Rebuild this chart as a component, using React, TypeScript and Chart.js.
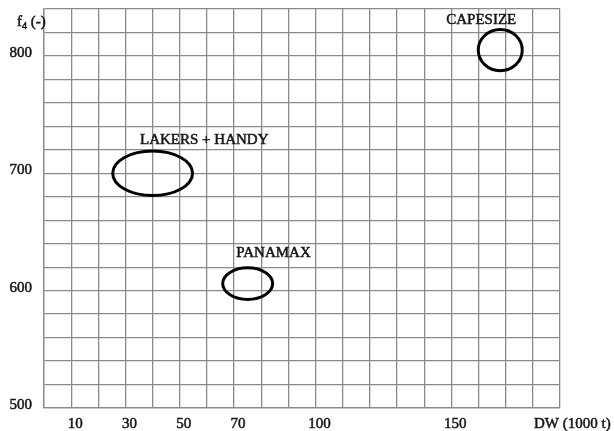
import React, { useEffect, useRef } from "react";
import { Chart, registerables } from "chart.js";

Chart.register(...registerables);

// ---- data ----
const classNames = ["LAKERS + HANDY", "PANAMAX", "CAPESIZE"];
const centerDW = [40, 75, 168];
const centerF4 = [700, 606, 805];
const spreadDW = [14.7, 9.2, 8.1];
const spreadF4 = [19, 13.5, 17.6];
const labelDW = [59, 84.5, 161];
const labelF4 = [728, 632, 830.6];
const xTickLabels = [10, 30, 50, 70, 100, 150];
const yTickLabels = [500, 600, 700, 800];
const xTitle = "DW (1000 t)";
const yTitleMain = "f";
const yTitleSub = "4";
const yTitleRest = " (-)";

const FONT = "'Liberation Serif', 'Times New Roman', serif";
const GRID = "#8a8a8a";
const INK = "#151515";

const ellipsePlugin = {
  id: "ellipses",
  afterDatasetsDraw(chart: any) {
    const { ctx, scales } = chart;
    const xs = scales.x;
    const ys = scales.y;
    ctx.save();
    ctx.strokeStyle = "#000";
    ctx.lineWidth = 3;
    for (let i = 0; i < centerDW.length; i++) {
      const cx = xs.getPixelForValue(centerDW[i]);
      const cy = ys.getPixelForValue(centerF4[i]);
      const rx = Math.abs(xs.getPixelForValue(centerDW[i] + spreadDW[i]) - cx);
      const ry = Math.abs(ys.getPixelForValue(centerF4[i] + spreadF4[i]) - cy);
      ctx.beginPath();
      ctx.ellipse(cx, cy, rx, ry, 0, 0, Math.PI * 2);
      ctx.stroke();
    }
    ctx.fillStyle = INK;
    ctx.strokeStyle = INK;
    ctx.lineWidth = 0.5;
    const put = (t: string, x: number, y: number) => {
      ctx.fillText(t, x, y);
      ctx.strokeText(t, x, y);
    };
    ctx.font = `15px ${FONT}`;
    ctx.textAlign = "center";
    ctx.textBaseline = "middle";
    for (let i = 0; i < classNames.length; i++) {
      put(
        classNames[i],
        xs.getPixelForValue(labelDW[i]),
        ys.getPixelForValue(labelF4[i])
      );
    }
    // axis titles
    const area = chart.chartArea;
    ctx.textAlign = "left";
    put(xTitle, area.right - 26, area.bottom + 16);
    let tx = 17;
    const ty = area.top + 13;
    ctx.font = `15px ${FONT}`;
    put(yTitleMain, tx, ty);
    tx += ctx.measureText(yTitleMain).width;
    ctx.font = `10px ${FONT}`;
    put(yTitleSub, tx, ty + 4);
    tx += ctx.measureText(yTitleSub).width;
    ctx.font = `15px ${FONT}`;
    put(yTitleRest, tx, ty);
    ctx.restore();
  },
};

export default function App() {
  const ref = useRef<HTMLCanvasElement | null>(null);
  useEffect(() => {
    document.body.style.margin = "0";
    const canvas = ref.current!;
    const chart = new Chart(canvas, {
      type: "scatter",
      data: {
        datasets: [
          {
            data: centerDW.map((x, i) => ({ x, y: centerF4[i] })),
            pointRadius: 0,
            pointHoverRadius: 0,
          },
        ],
      },
      options: {
        animation: false,
        responsive: false,
        events: [],
        layout: { padding: { top: 9, right: 54, left: 0, bottom: 0 } },
        plugins: { legend: { display: false }, tooltip: { enabled: false } },
        scales: {
          x: {
            type: "linear",
            min: 0,
            max: 190,
            afterFit: (s: any) => {
              s.height = 23;
              s.paddingLeft = 0;
              s.paddingRight = 0;
            },
            border: { color: GRID, width: 1.3 },
            grid: { color: GRID, lineWidth: 1.3, drawTicks: false },
            ticks: {
              stepSize: 10,
              autoSkip: false,
              maxRotation: 0,
              padding: 7,
              labelOffset: 4,
              color: INK,
              textStrokeColor: INK,
              textStrokeWidth: 0.5,
              font: { family: FONT, size: 15 },
              callback: (v: any) => (xTickLabels.includes(Number(v)) ? String(v) : ""),
            },
          },
          y: {
            type: "linear",
            min: 500,
            max: 840,
            afterFit: (s: any) => {
              s.width = 44;
              s.paddingTop = 0;
              s.paddingBottom = 0;
            },
            border: { color: GRID, width: 1.3 },
            grid: { color: GRID, lineWidth: 1.3, drawTicks: false },
            ticks: {
              stepSize: 20,
              autoSkip: false,
              padding: 12,
              labelOffset: -3,
              color: INK,
              textStrokeColor: INK,
              textStrokeWidth: 0.5,
              font: { family: FONT, size: 15 },
              callback: (v: any) => (yTickLabels.includes(Number(v)) ? String(v) : ""),
            },
          },
        },
      },
      plugins: [ellipsePlugin],
    });
    return () => chart.destroy();
  }, []);
  return (
    <div style={{ width: 614, height: 431, background: "#fff" }}>
      <canvas ref={ref} width={614} height={431} style={{ display: "block" }} />
    </div>
  );
}
